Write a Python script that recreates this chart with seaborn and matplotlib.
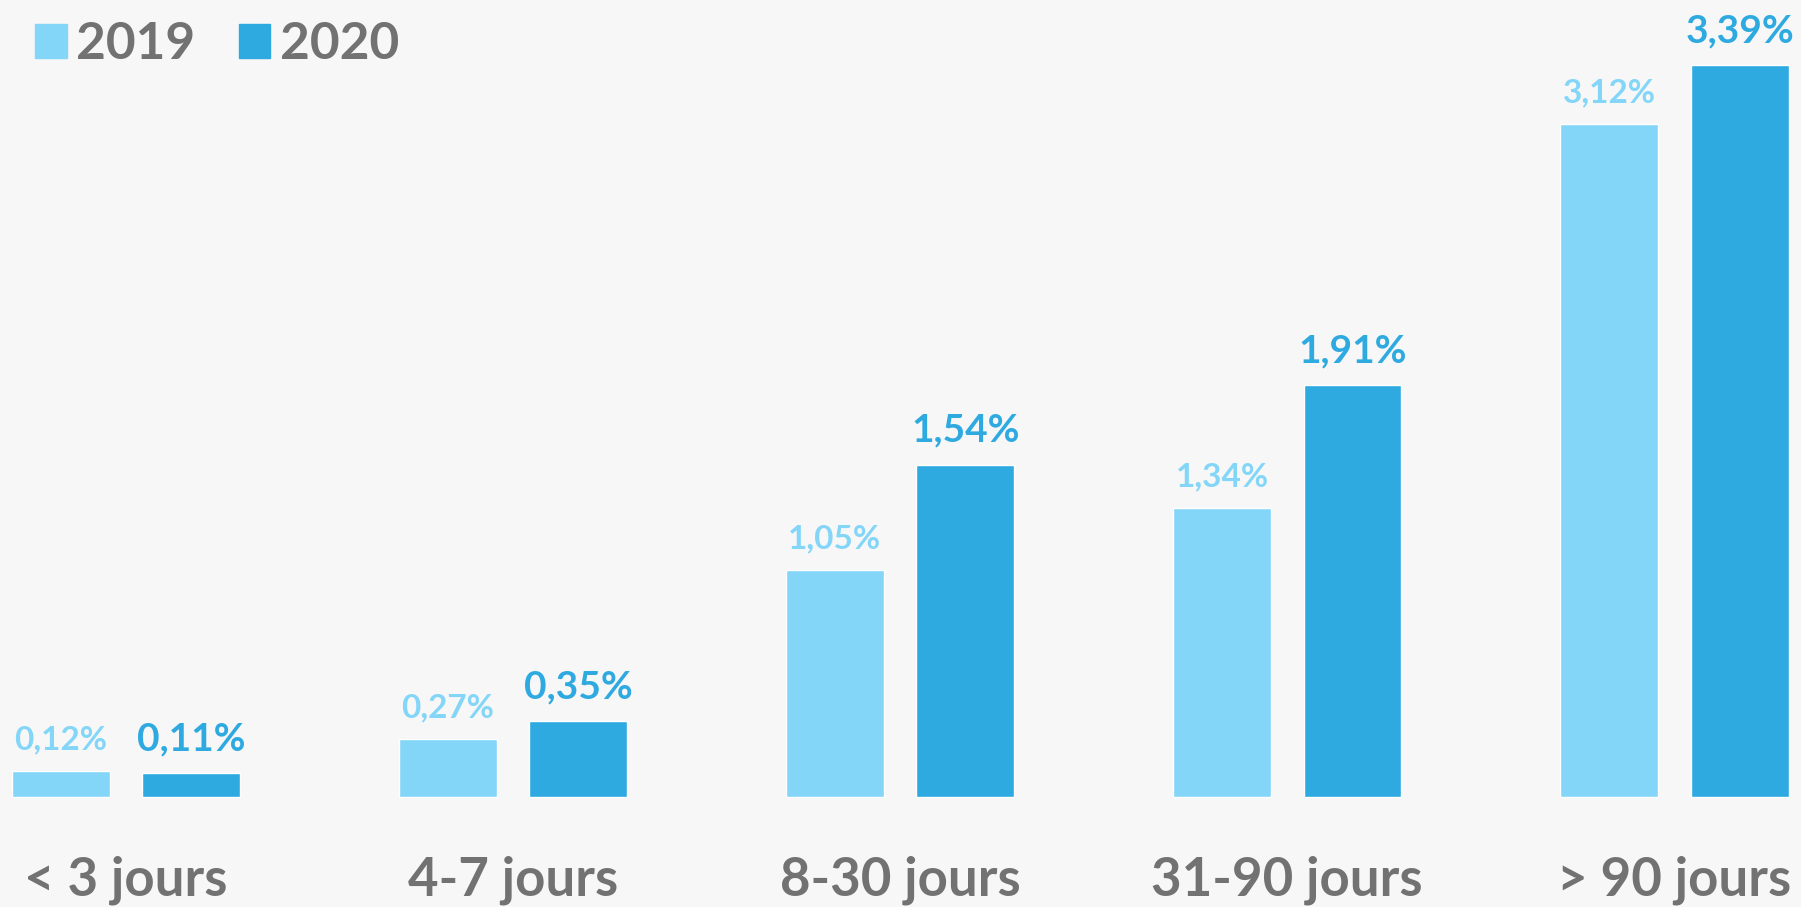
import matplotlib
matplotlib.use("Agg")
import matplotlib.pyplot as plt
import seaborn as sns
import pandas as pd
from matplotlib.patches import Patch

categories = ["< 3 jours", "4-7 jours", "8-30 jours", "31-90 jours", "> 90 jours"]
years = ["2019", "2020"]
values_2019 = [0.12, 0.27, 1.05, 1.34, 3.12]
values_2020 = [0.11, 0.35, 1.54, 1.91, 3.39]

light = "#84d6f8"
dark = "#2eaae1"
grey = "#727272"
bg = "#f7f7f7"

df = pd.DataFrame({
    "categorie": categories * 2,
    "annee": [years[0]] * 5 + [years[1]] * 5,
    "valeur": values_2019 + values_2020,
})

sns.set_style("white")
plt.rcParams["font.family"] = ["Lato", "DejaVu Sans"]

fig = plt.figure(figsize=(18.01, 9.07), dpi=100, facecolor=bg)
ax = fig.add_axes([0, 0, 1, 1])
ax.set_facecolor(bg)

sns.barplot(data=df, x="categorie", y="valeur", hue="annee",
            palette=[light, dark], width=0.674, gap=0.25,
            saturation=1, ax=ax, legend=False)

ax.set_xlim(-0.325, 4.327)
ax.set_ylim(-0.51, 3.693)
for s in ax.spines.values():
    s.set_visible(False)
ax.set_xticks([])
ax.set_yticks([])
ax.set_xlabel("")
ax.set_ylabel("")

# value labels above the bars
styles = [(light, 24), (dark, 28)]
for cont, (col, fs) in zip(ax.containers, styles):
    labels = [f"{b.get_height():.2f}".replace(".", ",") + "%" for b in cont]
    ax.bar_label(cont, labels=labels, padding=12, color=col,
                 fontsize=fs, fontweight="bold")

# category labels under each group
for i, c in enumerate(categories):
    ax.text(i, -0.385, c, ha="center", va="center", color=grey,
            fontsize=38, fontweight="bold")

# legend top left
handles = [Patch(color=light), Patch(color=dark)]
leg = ax.legend(handles, years, loc="upper left", bbox_to_anchor=(0.005, 1.005),
                ncol=2, frameon=False, borderpad=0, handlelength=0.62,
                handleheight=0.62, handletextpad=0.18, columnspacing=0.85,
                fontsize=37)
for t in leg.get_texts():
    t.set_color(grey)
    t.set_fontweight("bold")

fig.savefig("out.png", dpi=100, facecolor=bg)
